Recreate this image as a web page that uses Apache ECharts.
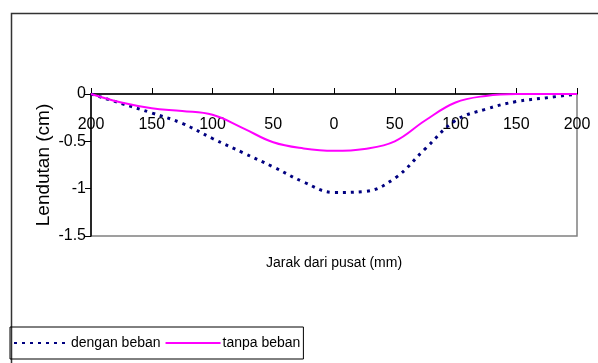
<!DOCTYPE html>
<html><head><meta charset="utf-8">
<script src="https://cdn.jsdelivr.net/npm/echarts@6/dist/echarts.min.js"></script>
<style>html,body{margin:0;padding:0;background:#fff}#c{width:598px;height:363px}</style>
</head><body><div id="c"></div>
<script>
var distances = [-200,-175,-150,-125,-100,-75,-50,-25,0,25,50,75,100,125,150,175,200];
var denganBeban = [0,-0.10,-0.20,-0.31,-0.47,-0.62,-0.77,-0.93,-1.04,-1.03,-0.89,-0.58,-0.28,-0.16,-0.08,-0.04,0];
var tanpaBeban = [0,-0.09,-0.15,-0.18,-0.22,-0.36,-0.51,-0.575,-0.60,-0.58,-0.50,-0.28,-0.09,-0.02,0,0,0];
var seriesNames = ['dengan beban','tanpa beban'];
var xTitle = 'Jarak dari pusat (mm)';
var yTitle = 'Lendutan (cm)';

function pairs(v){ return distances.map(function(d,i){ return [d, v[i]]; }); }
var FONT = 'Liberation Sans, Arial, sans-serif';
var chart = echarts.init(document.getElementById('c'));
chart.setOption({
  animation:false,
  backgroundColor:'#fff',
  grid:{left:91, top:94, right:21, bottom:127, show:true, borderColor:'#808080', borderWidth:1.5},
  xAxis:{type:'value', position:'top', min:-200, max:200, interval:50,
    axisLine:{onZero:false, lineStyle:{color:'#000', width:1.5}},
    axisTick:{show:true, inside:false, length:6, lineStyle:{color:'#000'}},
    axisLabel:{inside:true, margin:23, color:'#000', fontFamily:FONT, fontSize:16,
      formatter:function(v){return String(Math.abs(v));}},
    splitLine:{show:false}},
  yAxis:{type:'value', min:-1.5, max:0, interval:0.5,
    name:yTitle, nameLocation:'middle', nameGap:38, nameMoveOverlap:false,
    nameTextStyle:{color:'#000', fontFamily:FONT, fontSize:19},
    axisLine:{show:true, onZero:false, lineStyle:{color:'#000', width:1.5}},
    axisTick:{show:true, length:6, lineStyle:{color:'#000'}},
    axisLabel:{margin:5, color:'#000', fontFamily:FONT, fontSize:16,
      formatter:function(v){return String(v);}},
    splitLine:{show:false}},
  legend:{left:10, top:327, orient:'horizontal', padding:[9,3,9,3],
    borderColor:'#000', borderWidth:1, itemWidth:55, itemHeight:14, itemGap:4,
    itemStyle:{opacity:0},
    textStyle:{color:'#000', fontFamily:FONT, fontSize:14, padding:[0,0,0,-3]},
    data:seriesNames},
  graphic:[
    {type:'rect', left:9, top:11, shape:{width:700, height:500}, silent:true, z:-10,
      style:{fill:'none', stroke:'#333', lineWidth:1.5}},
    {type:'text', x:334, y:263, silent:true,
      style:{text:xTitle, textAlign:'center', textVerticalAlign:'middle', fill:'#000', font:'14px '+FONT}}
  ],
  series:[
    {name:seriesNames[0], type:'line', data:pairs(denganBeban), smooth:0.4, symbol:'none',
      lineStyle:{color:'#000080', width:3, type:[3,5]}, itemStyle:{color:'#000080'}},
    {name:seriesNames[1], type:'line', data:pairs(tanpaBeban), smooth:0.4, symbol:'none',
      lineStyle:{color:'#FF00FF', width:2, type:'solid'}, itemStyle:{color:'#FF00FF'}}
  ]
});
</script></body></html>
